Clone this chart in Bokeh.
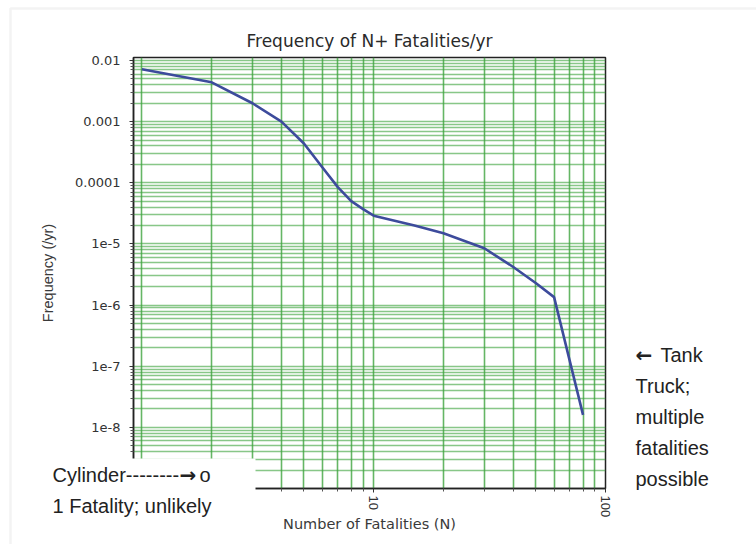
from bokeh.plotting import figure
from bokeh.models import Range1d, FixedTicker, Label, BoxAnnotation
from bokeh.embed import file_html
from bokeh.resources import INLINE

# ---------------- data ----------------
title_text = "Frequency of N+ Fatalities/yr"
x_label = "Number of Fatalities (N)"
y_label = "Frequency (/yr)"

fatalities = [1, 2, 3, 4, 5, 6, 7, 8, 9, 10, 15, 20, 30, 40, 50, 60, 80]
frequency = [7.2e-3, 4.4e-3, 2.0e-3, 1.0e-3, 4.4e-4, 1.8e-4, 8.5e-5, 5.0e-5,
             3.7e-5, 2.9e-5, 2.0e-5, 1.5e-5, 8.5e-6, 4.2e-6, 2.3e-6, 1.35e-6, 1.6e-8]

x_tick_values = [1, 10, 100]
x_tick_labels = ["1", "10", "100"]
y_tick_values = [1e-8, 1e-7, 1e-6, 1e-5, 1e-4, 1e-3, 1e-2]
y_tick_labels = ["1e-8", "1e-7", "1e-6", "1e-5", "0.0001", "0.001", "0.01"]

x_limits = [0.92, 100]
y_limits = [1e-9, 0.0112]

# note texts; the arrows are drawn as their own pieces in a bolder font
left_note_parts = [("Cylinder--------", "text"), ("\u2192", "arrow"), ("o", "text")]
left_note_second = "1 Fatality; unlikely"
right_note_first = [("\u2190", "arrow"), ("Tank", "text")]
right_note_rest = ["Truck;", "multiple", "fatalities", "possible"]

W, H = 756, 544

# ---------------- main chart ----------------
x_minor = [m * 10.0 ** e for e in (0, 1) for m in range(2, 10)]
y_minor = [m * 10.0 ** e for e in range(-9, -2) for m in range(2, 10)]

p = figure(width=W, height=H, x_axis_type="log", y_axis_type="log",
           x_range=Range1d(*x_limits), y_range=Range1d(*y_limits),
           output_backend="svg", toolbar_location=None, title=title_text,
           min_border_left=133, min_border_right=151, min_border_top=57,
           min_border_bottom=56)

p.background_fill_color = "white"
p.border_fill_color = "white"
p.outline_line_color = "#222222"
p.outline_line_width = 1.5

p.title.text_font = "DejaVu Sans"
p.title.text_font_size = "17px"
p.title.text_font_style = "normal"
p.title.text_color = "#2a2a2a"
p.title.align = "center"
p.title.standoff = 13

xt = FixedTicker(ticks=x_tick_values, minor_ticks=x_minor)
yt = FixedTicker(ticks=y_tick_values, minor_ticks=y_minor)
p.xaxis.ticker = xt
p.yaxis.ticker = yt
p.xgrid.ticker = xt
p.ygrid.ticker = yt
p.xaxis.major_label_overrides = dict(zip(x_tick_values, x_tick_labels))
p.yaxis.major_label_overrides = dict(zip(y_tick_values, y_tick_labels))

for ax in (p.xaxis, p.yaxis):
    ax.axis_line_color = "#222222"
    ax.axis_line_width = 1.5
    ax.major_tick_line_color = "#333333"
    ax.minor_tick_line_color = "#555555"
    ax.major_tick_in = 0
    ax.minor_tick_in = 0
    ax.major_tick_out = 4
    ax.minor_tick_out = 3
    ax.major_label_text_color = "#333333"
    ax.axis_label_text_color = "#3a3a3a"
    ax.axis_label_text_font_style = "normal"

p.xaxis.axis_label = x_label
p.xaxis.axis_label_text_font = "DejaVu Sans"
p.xaxis.axis_label_text_font_size = "14.5px"
p.xaxis.major_label_text_font = "Liberation Sans"
p.xaxis.major_label_text_font_size = "13px"
p.xaxis.major_label_orientation = "vertical"
p.xaxis.major_label_standoff = 3
p.xaxis.axis_label_standoff = -4

p.yaxis.axis_label = y_label
p.yaxis.axis_label_text_font = "Liberation Sans"
p.yaxis.axis_label_text_font_size = "14.5px"
p.yaxis.major_label_text_font = "DejaVu Sans"
p.yaxis.major_label_text_font_size = "13px"
p.yaxis.major_label_standoff = 9
p.yaxis.axis_label_standoff = 16

for g in (p.xgrid, p.ygrid):
    g.grid_line_color = "#3fa43f"
    g.minor_grid_line_color = "#3fa43f"
    g.grid_line_width = 1.6
    g.minor_grid_line_width = 1.6
p.xgrid.grid_line_alpha = 0.8
p.xgrid.minor_grid_line_alpha = 0.8
p.ygrid.grid_line_alpha = 0.62
p.ygrid.minor_grid_line_alpha = 0.62

p.line(fatalities, frequency, line_color="#3d4b9c", line_width=2.6)

# ---------------- transparent overlay for the page annotations ----------------
ov = figure(width=W, height=H, x_range=Range1d(0, W), y_range=Range1d(H, 0),
            output_backend="svg", toolbar_location=None,
            x_axis_location=None, y_axis_location=None,
            min_border=0, min_border_left=0, min_border_right=0,
            min_border_top=0, min_border_bottom=0)
ov.background_fill_alpha = 0
ov.border_fill_alpha = 0
ov.outline_line_color = None
ov.xgrid.visible = False
ov.ygrid.visible = False
ov.styles = {"position": "absolute", "left": "0px", "top": "0px"}

# light-grey page frame
ov.add_layout(BoxAnnotation(left=10, right=W + 100, top=8, bottom=H + 100,
                            fill_alpha=0, line_color="#d6d6d6", line_width=2.5))
# white cover box at the lower left
ov.add_layout(BoxAnnotation(left=12, right=255, top=458, bottom=H + 50,
                            fill_color="white", fill_alpha=1, line_alpha=0))


def note(x, y, t, kind):
    if kind == "arrow":
        font, style = "DejaVu Sans", "bold"
    else:
        font, style = "Liberation Sans", "normal"
    ov.add_layout(Label(x=x, y=y, text=t, text_font=font, text_font_style=style,
                        text_font_size="20px", text_baseline="middle",
                        text_align="left", text_color="#222222"))


line_step = 31
# left note (x positions of the pieces of its first line)
left_x = [52, 179, 199]
for (t, kind), x in zip(left_note_parts, left_x):
    note(x, 474, t, kind)
note(52, 474 + line_step, left_note_second, "text")

# right note
right_x = [635, 660]
for (t, kind), x in zip(right_note_first, right_x):
    note(x, 354, t, kind)
for i, t in enumerate(right_note_rest):
    note(635, 354 + line_step * (i + 1), t, "text")

open("out.html", "w").write(file_html([p, ov], INLINE))
